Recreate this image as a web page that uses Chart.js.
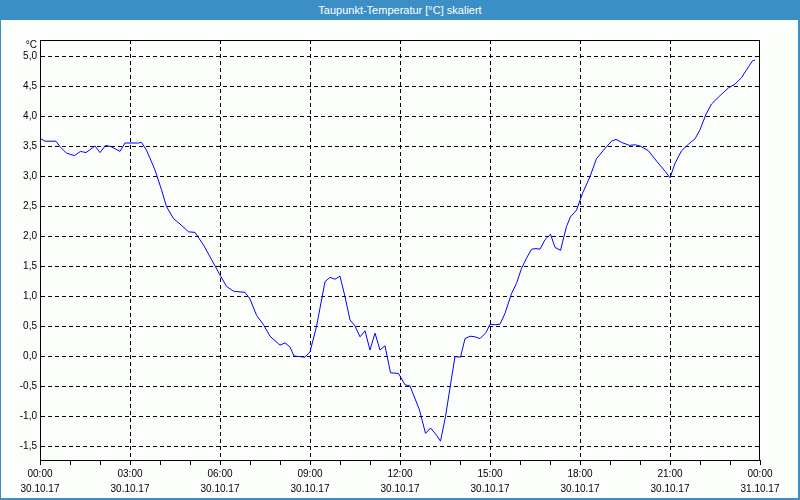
<!DOCTYPE html>
<html>
<head>
<meta charset="utf-8">
<script src="https://cdn.jsdelivr.net/npm/chart.js@4.4.1/dist/chart.umd.min.js"></script>
<style>
  html, body { margin: 0; padding: 0; background: #fcfefc; }
  #wrap { position: relative; width: 800px; height: 500px; overflow: hidden; }
  #chart { position: absolute; left: 0; top: 0; background: #fcfefc; }
  #titlebar {
    position: absolute; left: 0; top: 0; width: 800px; height: 20px;
    background: #3c8fc6; color: #fff; text-align: center;
    font: 11px "Liberation Sans", Arial, sans-serif; line-height: 20px;
  }
  #frame {
    position: absolute; left: 0; top: 0; width: 797px; height: 498px;
    border-left: 1px solid #3c8fc6; border-right: 2px solid #3c8fc6;
    border-bottom: 2px solid #3c8fc6; pointer-events: none;
  }
</style>
</head>
<body>
<div id="wrap">
  <canvas id="chart" width="800" height="500"></canvas>
  <div id="titlebar">Taupunkt-Temperatur [°C] skaliert</div>
  <div id="frame"></div>
</div>
<script>
// minutes since 30.10.17 00:00
const minutes = [
  0, 10, 32, 40, 53, 69, 81, 92, 110, 120, 131, 142, 160, 170, 197, 203, 213,
  230, 243, 253, 267, 280, 297, 310, 327, 360, 373, 387, 410, 420, 433, 447,
  460, 480, 490, 500, 508, 530, 540, 553, 570, 580, 590, 600, 610, 620, 630,
  640, 650, 660, 670, 680, 690, 701, 717, 730, 740, 759, 771, 781, 793, 801,
  811, 823, 830, 841, 850, 860, 870, 880, 892, 900, 910, 920, 930, 943, 953,
  963, 973, 983, 992, 1000, 1010, 1021, 1030, 1041, 1053, 1061, 1073, 1085,
  1100, 1113, 1127, 1143, 1152, 1163, 1179, 1190, 1200, 1217, 1233, 1250,
  1260, 1270, 1283, 1297, 1310, 1320, 1332, 1343, 1360, 1377, 1390, 1403,
  1417, 1425, 1430
];
// Taupunkt in °C
const dewPoint = [
  3.63, 3.58, 3.58, 3.49, 3.38, 3.34, 3.41, 3.39, 3.50, 3.39, 3.51, 3.49, 3.41, 3.55, 3.55, 3.56, 3.43,
  3.10, 2.77, 2.49, 2.29, 2.20, 2.07, 2.06, 1.85, 1.35, 1.16, 1.08, 1.06, 0.95, 0.68, 0.52,
  0.33, 0.18, 0.22, 0.15, 0.00, -0.02, 0.07, 0.49, 1.24, 1.31, 1.28, 1.33, 0.99, 0.60, 0.50,
  0.32, 0.42, 0.10, 0.38, 0.10, 0.17, -0.28, -0.29, -0.48, -0.50, -0.90, -1.29, -1.20, -1.32, -1.42,
  -1.01, -0.37, -0.01, -0.02, 0.29, 0.33, 0.32, 0.29, 0.39, 0.53, 0.52, 0.53, 0.71, 1.04, 1.21,
  1.46, 1.63, 1.78, 1.79, 1.78, 1.94, 2.03, 1.81, 1.76, 2.16, 2.32, 2.43, 2.71,
  2.99, 3.29, 3.43, 3.58, 3.61, 3.56, 3.51, 3.52, 3.50, 3.42, 3.25, 3.08,
  2.97, 3.21, 3.42, 3.53, 3.62, 3.77, 4.03, 4.20, 4.34, 4.47, 4.53, 4.64,
  4.82, 4.92, 4.93
];
const timeLabels = ['00:00', '03:00', '06:00', '09:00', '12:00', '15:00', '18:00', '21:00', '00:00'];
const dateLabels = ['30.10.17', '30.10.17', '30.10.17', '30.10.17', '30.10.17', '30.10.17', '30.10.17', '30.10.17', '31.10.17'];
const yTickValues = [-1.5, -1.0, -0.5, 0.0, 0.5, 1.0, 1.5, 2.0, 2.5, 3.0, 3.5, 4.0, 4.5, 5.0];
const yUnit = '°C';

const tickFont = { family: '"Liberation Sans", Arial, sans-serif', size: 10, lineHeight: 1.5 };

const framePlugin = {
  id: 'frame',
  afterDraw(chart) {
    const { ctx, chartArea: a } = chart;
    ctx.save();
    ctx.strokeStyle = '#000';
    ctx.lineWidth = 1;
    ctx.strokeRect(a.left + 0.5, a.top + 0.5, a.right - a.left - 1, a.bottom - a.top);
    ctx.fillStyle = '#000';
    ctx.font = '10px "Liberation Sans", Arial, sans-serif';
    ctx.textAlign = 'right';
    ctx.textBaseline = 'middle';
    ctx.fillText(yUnit, a.left - 3, a.top + 5);
    ctx.restore();
  }
};

new Chart(document.getElementById('chart'), {
  type: 'line',
  data: {
    datasets: [{
      label: 'Taupunkt-Temperatur',
      data: minutes.map((m, i) => ({ x: m, y: dewPoint[i] })),
      borderColor: '#0000ff',
      borderWidth: 1,
      pointRadius: 0,
      tension: 0,
      fill: false
    }]
  },
  options: {
    responsive: false,
    animation: false,
    devicePixelRatio: 1,
    layout: { padding: { left: 0, top: 40, right: 40, bottom: 0 } },
    plugins: { legend: { display: false }, tooltip: { enabled: false } },
    scales: {
      x: {
        type: 'linear',
        min: 0,
        max: 1440,
        afterFit(scale) { scale.height = 40; },
        ticks: {
          stepSize: 60,
          autoSkip: false,
          maxRotation: 0,
          padding: 2,
          color: '#000',
          font: tickFont,
          callback(value) {
            if (value % 180 !== 0) return '';
            const i = value / 180;
            return [timeLabels[i], dateLabels[i]];
          }
        },
        grid: {
          color(ctx) {
            const v = ctx.tick ? ctx.tick.value : 0;
            return (v % 180 === 0 && v > 0 && v < 1440) ? '#000' : 'rgba(0,0,0,0)';
          },
          tickColor: '#000',
          tickLength: 5,
          lineWidth: 1
        },
        border: { color: '#000', width: 1, dash: [4, 3] }
      },
      y: {
        min: -1.7333,
        max: 5.2667,
        afterFit(scale) { scale.width = 40; },
        afterBuildTicks(scale) {
          scale.ticks = yTickValues.map(v => ({ value: v }));
        },
        ticks: {
          padding: 3,
          color: '#000',
          font: tickFont,
          callback(value) { return value.toFixed(1).replace('.', ','); }
        },
        grid: { color: '#000', drawTicks: false, lineWidth: 1 },
        border: { color: '#000', width: 1, dash: [4, 3] }
      }
    }
  },
  plugins: [framePlugin]
});
</script>
</body>
</html>
